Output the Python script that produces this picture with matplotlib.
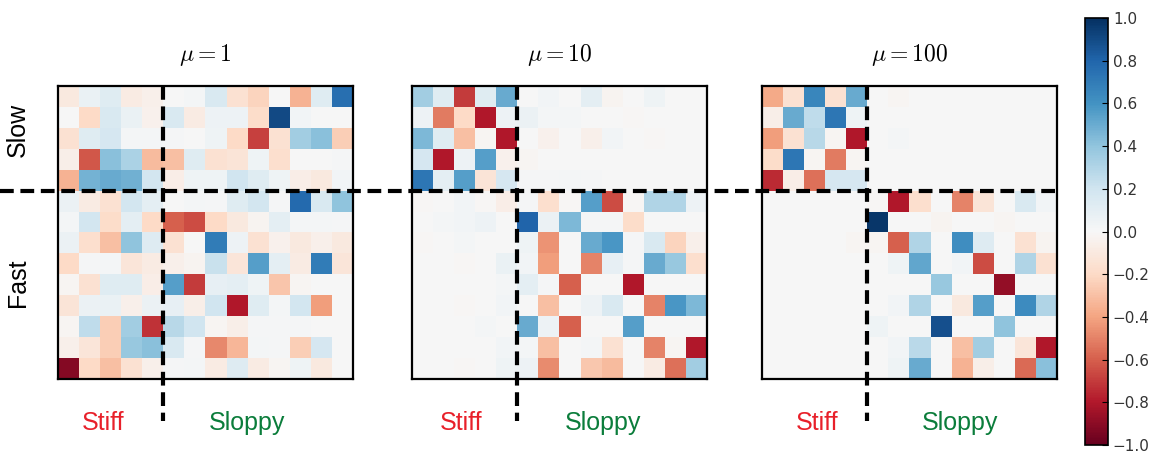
import numpy as np
import matplotlib
matplotlib.use('Agg')
import matplotlib.pyplot as plt
from matplotlib.lines import Line2D

plt.rcParams['mathtext.fontset'] = 'cm'

# rotation matrices between slow/fast modes and stiff/sloppy directions
mu1 = [
    [-0.10, 0.07, 0.12, -0.08, -0.05, 0.00, 0.02, 0.15, -0.15, -0.22, 0.00, -0.35, 0.12, 0.75],
    [0.00, -0.20, 0.15, 0.07, -0.04, 0.15, -0.08, 0.05, 0.05, -0.18, 0.90, 0.03, 0.00, 0.00],
    [-0.15, 0.12, 0.17, 0.02, 0.02, 0.01, 0.00, 0.04, -0.20, -0.68, -0.15, 0.35, 0.42, -0.25],
    [-0.06, -0.62, 0.42, 0.32, -0.32, -0.30, 0.12, -0.15, -0.13, 0.04, -0.17, 0.00, 0.00, 0.01],
    [-0.35, 0.47, 0.50, 0.48, 0.18, -0.07, 0.04, 0.04, 0.20, 0.12, 0.04, -0.07, -0.10, 0.03],
    [0.06, -0.08, -0.15, 0.18, 0.10, 0.00, 0.02, 0.01, 0.12, 0.18, 0.01, 0.78, 0.15, 0.40],
    [0.02, 0.18, -0.18, 0.10, -0.20, -0.60, -0.65, -0.20, -0.10, -0.03, 0.10, 0.02, 0.02, 0.01],
    [0.06, -0.17, -0.30, 0.40, 0.13, -0.15, 0.00, 0.70, 0.05, -0.15, -0.04, -0.10, -0.05, -0.10],
    [-0.20, 0.01, 0.02, -0.12, -0.08, -0.05, -0.03, 0.22, -0.12, 0.55, 0.10, -0.08, 0.70, -0.12],
    [-0.02, -0.15, 0.12, 0.12, -0.07, 0.55, -0.70, 0.08, 0.10, 0.04, -0.28, -0.02, 0.00, 0.00],
    [-0.13, 0.06, 0.07, -0.05, 0.06, 0.08, -0.06, 0.20, -0.80, 0.12, 0.02, 0.18, -0.42, 0.00],
    [-0.02, 0.25, -0.25, 0.35, -0.72, 0.28, 0.20, -0.02, -0.06, 0.01, 0.01, 0.01, 0.00, 0.00],
    [-0.05, -0.12, -0.25, 0.38, 0.42, 0.15, 0.01, -0.48, -0.33, 0.02, 0.01, -0.25, 0.17, 0.00],
    [-0.92, -0.20, -0.30, -0.15, -0.05, 0.01, 0.02, -0.08, 0.13, -0.08, -0.02, 0.04, -0.10, 0.00],
]

mu10 = [
    [0.35, 0.12, -0.70, 0.12, 0.50, 0.00, 0.03, 0.00, 0.10, -0.03, 0.00, 0.04, 0.00, 0.00],
    [0.05, -0.52, -0.20, -0.80, 0.05, 0.06, 0.02, 0.02, 0.00, 0.00, -0.01, 0.00, 0.00, 0.00],
    [0.45, 0.12, -0.30, -0.02, -0.80, 0.00, -0.04, 0.00, -0.05, 0.03, 0.00, -0.01, 0.00, 0.00],
    [0.17, -0.80, 0.05, 0.55, -0.04, -0.02, 0.00, 0.00, 0.00, 0.00, 0.00, 0.00, 0.00, 0.00],
    [0.72, 0.10, 0.55, -0.13, 0.17, 0.01, 0.01, 0.02, 0.01, 0.00, 0.00, 0.00, 0.00, 0.00],
    [-0.01, 0.00, 0.03, -0.01, -0.07, 0.01, -0.17, -0.01, 0.55, -0.65, -0.01, 0.30, 0.30, 0.05],
    [0.00, 0.02, 0.03, 0.05, 0.00, 0.80, 0.06, 0.45, 0.01, 0.01, -0.18, 0.00, 0.00, 0.00],
    [-0.01, 0.00, 0.02, 0.00, 0.00, 0.04, -0.45, 0.00, 0.50, 0.58, 0.01, 0.15, -0.22, -0.05],
    [0.00, 0.00, -0.01, 0.00, 0.07, 0.03, -0.42, 0.00, -0.50, 0.08, 0.01, 0.50, 0.38, -0.17],
    [0.00, 0.00, 0.00, 0.00, 0.02, 0.10, 0.01, -0.60, 0.00, 0.00, -0.80, 0.00, 0.00, 0.00],
    [0.00, 0.00, -0.01, 0.00, 0.03, 0.00, -0.30, 0.00, 0.05, 0.15, 0.00, -0.50, 0.58, 0.45],
    [0.00, 0.00, 0.00, 0.02, 0.00, 0.50, 0.05, -0.60, 0.00, 0.00, 0.55, 0.00, 0.00, 0.00],
    [0.00, 0.00, 0.00, 0.00, 0.03, 0.02, -0.30, 0.00, 0.02, -0.15, 0.00, -0.50, -0.02, -0.80],
    [0.00, 0.00, -0.01, 0.00, 0.04, 0.05, -0.47, 0.00, -0.27, -0.32, 0.00, -0.08, -0.55, 0.35],
]

mu100 = [
    [-0.38, -0.15, 0.65, -0.15, 0.50, 0.00, -0.02, 0.00, 0.00, 0.00, 0.00, 0.00, 0.00, 0.00],
    [-0.06, 0.50, 0.25, 0.72, 0.04, 0.00, 0.00, 0.00, 0.00, 0.00, 0.00, 0.00, 0.00, 0.00],
    [-0.42, -0.15, 0.28, -0.02, -0.80, 0.00, 0.02, 0.00, 0.00, 0.00, 0.00, 0.00, 0.00, 0.00],
    [-0.18, 0.72, -0.02, -0.52, -0.02, 0.00, 0.00, 0.00, 0.00, 0.00, 0.00, 0.00, 0.00, 0.00],
    [-0.75, -0.07, -0.55, 0.17, 0.17, 0.00, 0.00, 0.00, 0.00, 0.00, 0.00, 0.00, 0.00, 0.00],
    [0.00, 0.00, 0.00, 0.00, 0.00, -0.01, -0.80, -0.17, 0.00, -0.50, -0.13, 0.00, 0.15, 0.03],
    [0.00, 0.00, 0.00, 0.00, 0.00, 0.97, 0.00, 0.00, -0.03, 0.00, 0.00, -0.02, 0.00, 0.00],
    [0.00, 0.00, 0.00, 0.00, -0.02, -0.02, -0.60, 0.30, 0.00, 0.62, 0.13, 0.00, -0.15, -0.03],
    [0.00, 0.00, 0.00, 0.00, 0.00, 0.00, 0.04, 0.52, 0.00, 0.03, -0.65, 0.00, 0.30, -0.15],
    [0.00, 0.00, 0.00, 0.00, 0.00, 0.00, 0.00, 0.00, 0.38, 0.00, 0.00, -0.88, 0.00, 0.00],
    [0.00, 0.00, 0.00, 0.00, 0.00, 0.00, 0.03, 0.30, 0.00, -0.10, 0.55, 0.00, 0.63, 0.30],
    [0.00, 0.00, 0.00, 0.00, 0.00, 0.04, 0.00, 0.00, 0.88, 0.00, 0.00, 0.40, 0.00, 0.00],
    [0.00, 0.00, 0.00, 0.00, 0.00, 0.00, 0.03, 0.27, 0.00, -0.30, 0.35, 0.00, -0.12, -0.80],
    [0.00, 0.00, 0.00, 0.00, 0.00, 0.00, 0.04, 0.50, 0.00, -0.35, -0.06, 0.00, -0.57, 0.42],
]

titles = [r'$\mu=1$', r'$\mu=10$', r'$\mu=100$']
n_slow = 5
cb_ticks = [-1.0, -0.8, -0.6, -0.4, -0.2, 0.0, 0.2, 0.4, 0.6, 0.8, 1.0]

W, H = 1152, 455
fig = plt.figure(figsize=(W / 100, H / 100), dpi=100)

# panel left edges in pixels
lefts = [58, 412, 762]
stiff_x = [103, 461, 817]
sloppy_x = [247, 603, 960]
pw, ph, ptop = 295, 293, 86

dash = (3.3, 1.6)
lab_font = dict(fontsize=18, family='Liberation Sans')

for i, mat in enumerate([mu1, mu10, mu100]):
    ax = fig.add_axes([lefts[i] / W, (H - ptop - ph) / H, pw / W, ph / H])
    im = ax.imshow(np.array(mat), cmap='RdBu', vmin=-1, vmax=1,
                   interpolation='nearest', aspect='auto')
    n = len(mat)
    ax.plot([n_slow - 0.5, n_slow - 0.5], [-0.5, n + 1.5], color='k', lw=3,
            linestyle=(0, dash), clip_on=False, zorder=5)
    ax.set_xlim(-0.5, n - 0.5)
    ax.set_ylim(n - 0.5, -0.5)
    ax.set_xticks([])
    ax.set_yticks([])
    for s in ax.spines.values():
        s.set_linewidth(1.6)
    ax.text(0.5, 1 + (ptop - 55) / ph, titles[i], transform=ax.transAxes,
            ha='center', va='center', fontsize=17)
    fig.text(stiff_x[i] / W, (H - 423) / H, 'Stiff', color='#e8202a',
             ha='center', va='center', **lab_font)
    fig.text(sloppy_x[i] / W, (H - 423) / H, 'Sloppy', color='#0b7d3b',
             ha='center', va='center', **lab_font)

# slow/fast boundary across all panels
yline = (H - ptop - n_slow * ph / 14) / H
fig.add_artist(Line2D([0, 1057 / W], [yline, yline], color='k', lw=3,
                      linestyle=(0, dash), zorder=5))

fig.text(18 / W, (H - 130) / H, 'Slow', rotation=90, ha='center', va='center',
         **lab_font)
fig.text(18 / W, (H - 283) / H, 'Fast', rotation=90, ha='center', va='center',
         **lab_font)

cax = fig.add_axes([1085 / W, (H - 445) / H, 23 / W, 427 / H])
cb = fig.colorbar(im, cax=cax, ticks=cb_ticks)
cb.ax.tick_params(direction='in', length=4, labelsize=11, labelcolor='#333333')
cb.ax.set_yticklabels([('%.1f' % t).replace('-', '\u2212') for t in cb_ticks])
cb.outline.set_linewidth(1.2)

plt.savefig('out.png', dpi=100)
